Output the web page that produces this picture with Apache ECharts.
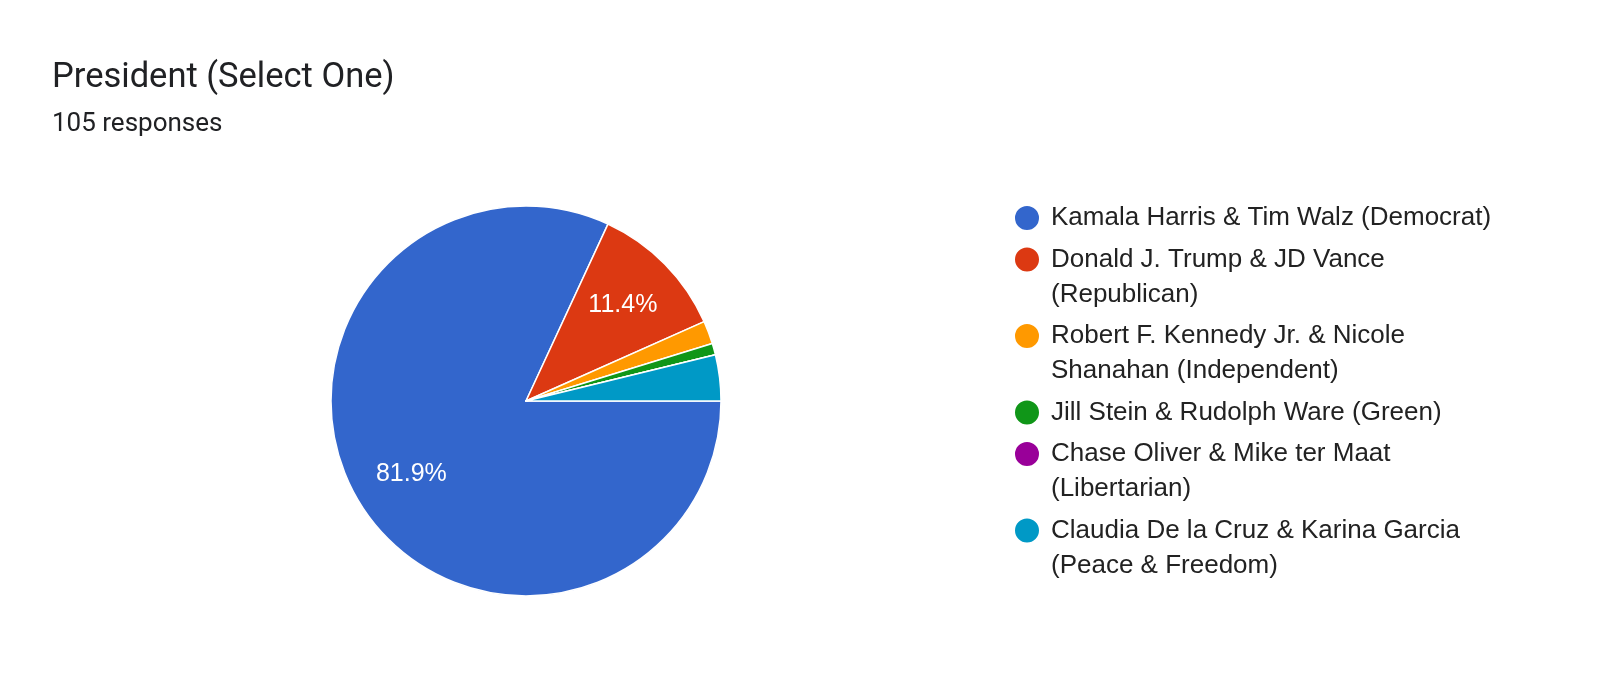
<!DOCTYPE html>
<html><head><meta charset="utf-8">
<script src="https://cdn.jsdelivr.net/npm/echarts@6/dist/echarts.min.js"></script>
<style>html,body{margin:0;padding:0;background:#fff}#c{width:1600px;height:673px}</style>
</head><body><div id="c"></div>
<script>
const titleText = 'President (Select One)';
const subtitleText = '105 responses';
const categories = [
  'Kamala Harris & Tim Walz (Democrat)',
  'Donald J. Trump & JD Vance (Republican)',
  'Robert F. Kennedy Jr. & Nicole Shanahan (Independent)',
  'Jill Stein & Rudolph Ware (Green)',
  'Chase Oliver & Mike ter Maat (Libertarian)',
  'Claudia De la Cruz & Karina Garcia (Peace & Freedom)'
];
const responses = [86, 12, 2, 1, 0, 4];
const colors = ['#3366cc', '#dc3912', '#ff9900', '#109618', '#990099', '#0099c6'];

const total = responses.reduce((a, b) => a + b, 0);
const LEG_FONT = 26, LEG_LH = 35, LEG_W = 456, LEG_GAP = 6.5;
const LEG_FAMILY = 'Arial, "Liberation Sans", sans-serif';
const ctx = document.createElement('canvas').getContext('2d');
ctx.font = LEG_FONT + 'px ' + LEG_FAMILY;
function wrap(s) {
  const words = s.split(' ');
  const lines = [];
  let cur = '';
  for (const w of words) {
    const t = cur ? cur + ' ' + w : w;
    if (ctx.measureText(t).width > LEG_W && cur) { lines.push(cur); cur = w; }
    else cur = t;
  }
  if (cur) lines.push(cur);
  return lines;
}

let y = 200.5;
const legends = categories.map((name) => {
  const lines = wrap(name);
  const top = y;
  y += lines.length * LEG_LH + LEG_GAP;
  return {
    orient: 'vertical', left: 1013, top: top, padding: 0,
    itemWidth: 26, itemHeight: 26, icon: 'circle', selectedMode: false,
    data: [name],
    formatter: () => lines.join('\n'),
    textStyle: {
      fontFamily: LEG_FAMILY, fontSize: LEG_FONT, lineHeight: LEG_LH,
      height: LEG_LH, color: '#222222', padding: [0, 0, 0, 6],
      rich: { t: { fontFamily: LEG_FAMILY, fontSize: LEG_FONT, lineHeight: LEG_LH } }
    }
  };
});

const pieData = categories.map((n, i) => ({ name: n, value: responses[i] }));

const chart = echarts.init(document.getElementById('c'), null, { renderer: 'canvas' });
chart.setOption({
  backgroundColor: '#ffffff',
  animation: false,
  color: colors,
  title: [
    { text: titleText, left: 52, top: 61, padding: 0,
      textStyle: { fontFamily: 'Roboto', fontSize: 34.5, fontWeight: 'normal', color: '#202124', lineHeight: 35 } },
    { text: subtitleText, left: 52, top: 111, padding: 0,
      textStyle: { fontFamily: 'Roboto', fontSize: 26, fontWeight: 'normal', color: '#202124', lineHeight: 26 } }
  ],
  legend: legends,
  series: [
    {
      type: 'pie', center: [526, 401], radius: [0, 195], startAngle: 0, clockwise: true,
      data: pieData, silent: true,
      itemStyle: { borderColor: '#ffffff', borderWidth: 1.5 },
      label: { show: false }, labelLine: { show: false },
      emphasis: { disabled: true }
    },
    {
      type: 'pie', center: [526, 401], radius: [71, 195], startAngle: 0, clockwise: true,
      data: pieData, silent: true,
      itemStyle: { color: 'transparent', borderWidth: 0 },
      label: {
        show: true, position: 'inside', color: '#ffffff',
        fontFamily: LEG_FAMILY, fontSize: 25, textBorderWidth: 0,
        formatter: p => {
          const pct = p.value / total * 100;
          return pct >= 5 ? pct.toFixed(1) + '%' : '';
        }
      },
      labelLine: { show: false },
      emphasis: { disabled: true }
    }
  ]
});
</script>
</body></html>
